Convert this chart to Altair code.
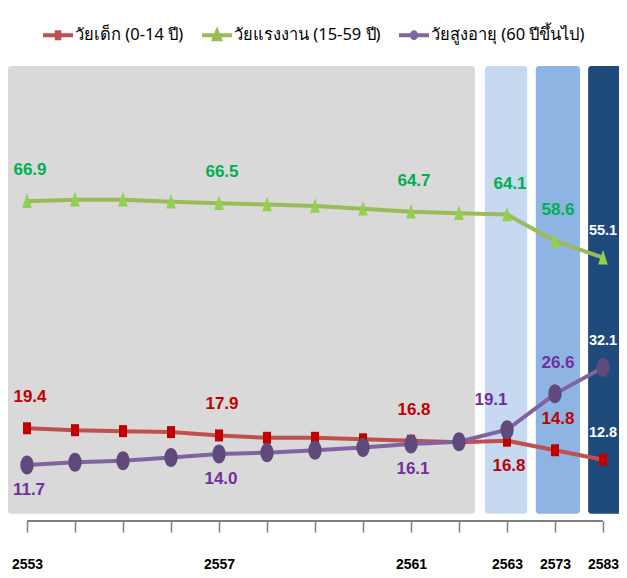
import json
import altair as alt
import pandas as pd

# ---------------- data ----------------
years = ['2553', '2554', '2555', '2556', '2557', '2558', '2559', '2560',
         '2561', '2562', '2563', '2573', '2583']
shown_years = ['2553', '', '', '', '2557', '', '', '', '2561', '', '2563', '2573', '2583']
series_names = ['วัยเด็ก (0-14 ปี)', 'วัยแรงงาน (15-59 ปี)', 'วัยสูงอายุ (60 ปีขึ้นไป)']
child = [19.4, 19.0, 18.8, 18.6, 17.9, 17.4, 17.4, 17.1, 16.8, 16.5, 16.8, 14.8, 12.8]
working = [66.9, 67.2, 67.2, 66.8, 66.5, 66.2, 65.9, 65.3, 64.7, 64.4, 64.1, 58.6, 55.1]
elderly = [11.7, 12.3, 12.6, 13.3, 14.0, 14.3, 14.8, 15.4, 16.1, 16.6, 19.1, 26.6, 32.1]
labelled_idx = [0, 4, 8, 10, 11, 12]
# where each value label sits: a = above, b = below, l = above-left, e = above (last column)
child_place = ['a', 'a', 'a', 'b', 'a', 'e']
working_place = ['a', 'a', 'a', 'a', 'a', 'e']
elderly_place = ['b', 'b', 'b', 'l', 'a', 'e']

# background period bands (in category-index units)
band_start = [-0.396, 9.54, 10.6, 11.69]
band_end = [9.33, 10.42, 11.52, 12.4]
band_colors = ['#D9D9D9', '#C6D9F1', '#8DB4E2', '#1F4A7C']
band_low, band_high = 1.5, 95.2

# ---------------- styles ----------------
line_colors = ['#C0504D', '#9BBB59', '#8064A2']
marker_colors = ['#C00000', '#92D050', '#604A7B']
label_colors = ['#C00000', '#00B050', '#7030A0']
marker_shapes = ['M-0.67,-1L0.67,-1L0.67,1L-0.67,1Z',
                 'M0,-1L0.6,0.85L-0.6,0.85Z',
                 'M-0.7,0A0.7,1 0 1,1 0.7,0A0.7,1 0 1,1 -0.7,0Z']
marker_sizes = [144, 361, 169]
bar = 'M-1,-0.13L1,-0.13L1,0.13L-1,0.13Z '
legend_shapes = [bar + 'M-0.22,-0.33L0.22,-0.33L0.22,0.33L-0.22,0.33Z',
                 bar + 'M0,-0.6L0.4,0.4L-0.4,0.4Z',
                 bar + 'M-0.27,0A0.27,0.33 0 1,1 0.27,0A0.27,0.33 0 1,1 -0.27,0Z']
NUM_FONT = 'Liberation Sans, Arial, sans-serif'
TXT_FONT = 'Noto Sans, sans-serif'

# ---------------- tables ----------------
rows = []
for name, vals in zip(series_names, [child, working, elderly]):
    for i, v in enumerate(vals):
        rows.append({'i': i, 'year': years[i], 'value': v, 'series': name})
df = pd.DataFrame(rows)

lab_rows = []
for name, vals, places in zip(series_names, [child, working, elderly],
                              [child_place, working_place, elderly_place]):
    for k, i in enumerate(labelled_idx):
        lab_rows.append({'i': i, 'value': vals[i], 'series': name,
                         'label': f'{vals[i]:.1f}', 'place': places[k]})
labels_df = pd.DataFrame(lab_rows)

bands_df = pd.DataFrame({'start': band_start, 'end': band_end, 'color': band_colors,
                         'low': band_low, 'high': band_high})
axis_df = pd.DataFrame({'start': [0], 'end': [len(years) - 1], 'zero': [0]})

# ---------------- encodings ----------------
xscale = alt.Scale(domain=[-19 / 48, -19 / 48 + 611 / 48], nice=False, zero=False)
label_expr = f"{json.dumps(shown_years)}[datum.value]"
xaxis = alt.Axis(values=list(range(len(years))), labelExpr=label_expr, domain=False,
                 grid=False, ticks=True, tickSize=11, tickColor='#7F7F7F', tickWidth=1.5,
                 labelFont=NUM_FONT, labelFontSize=14, labelFontWeight='bold',
                 labelColor='black', labelPadding=25, labelOverlap=False,
                 labelFlush=False, title=None)
yscale = alt.Scale(domain=[0, 100], nice=False, zero=False)


def X(field):
    return alt.X(field, type='quantitative', scale=xscale, axis=xaxis)


def Y(field):
    return alt.Y(field, type='quantitative', scale=yscale, axis=None)


bands = alt.Chart(bands_df).mark_rect(cornerRadius=3).encode(
    x=X('start'), x2='end', y=Y('low'), y2='high',
    color=alt.Color('color:N', scale=None))

axis_line = alt.Chart(axis_df).mark_rule(color='#7F7F7F', strokeWidth=2).encode(
    x=X('start'), x2='end', y=Y('zero'))

lines = alt.Chart(df).mark_line(strokeWidth=4).encode(
    x=X('i'), y=Y('value'),
    color=alt.Color('series:N', scale=alt.Scale(domain=series_names, range=line_colors),
                    legend=None),
    order='i:Q')

points = alt.Chart(df).mark_point(filled=True, opacity=1, strokeWidth=0).encode(
    x=X('i'), y=Y('value'),
    shape=alt.Shape('series:N', scale=alt.Scale(domain=series_names, range=marker_shapes),
                    legend=None),
    size=alt.Size('series:N', scale=alt.Scale(domain=series_names, range=marker_sizes),
                  legend=None),
    color=alt.Color('series:N', scale=alt.Scale(domain=series_names, range=marker_colors),
                    legend=None))

leg = alt.Legend(title=None, orient='none', legendX=35, legendY=-23, direction='horizontal',
                 symbolSize=900, symbolStrokeWidth=0, symbolOpacity=1,
                 labelFont=TXT_FONT, labelFontSize=16.5, labelColor='black',
                 labelOffset=2, columnPadding=18, padding=0, labelLimit=300)
legend_layer = alt.Chart(df).transform_filter('false').mark_point(filled=True).encode(
    x=X('i'), y=Y('value'),
    shape=alt.Shape('series:N', scale=alt.Scale(domain=series_names, range=legend_shapes),
                    legend=leg),
    color=alt.Color('series:N', scale=alt.Scale(domain=series_names, range=line_colors),
                    legend=leg))


def text_layer(place, dy, dx=0, size=17):
    return alt.Chart(labels_df).transform_filter(f"datum.place == '{place}'").mark_text(
        font=NUM_FONT, fontSize=size, fontWeight='bold', dy=dy, dx=dx).encode(
        x=X('i'), y=Y('value'), text='label:N',
        color=alt.condition(f'datum.i == {len(years) - 1}', alt.value('white'),
                            alt.Color('series:N',
                                      scale=alt.Scale(domain=series_names, range=label_colors),
                                      legend=None)))


chart = alt.layer(
    bands, axis_line, lines, points, legend_layer,
    text_layer('a', -31, 3), text_layer('b', 25, 2), text_layer('l', -30, -16),
    text_layer('e', -27, 0, 14.5)
).resolve_scale(
    color='independent', shape='independent', size='independent'
).properties(
    width=611, height=478,
    autosize=alt.AutoSizeParams(type='none'),
    padding={'left': 0, 'top': 35, 'right': 0, 'bottom': 49},
    background='white'
).configure_view(stroke=None)

chart.save('out.html', embed_options={'renderer': 'svg', 'actions': False})
